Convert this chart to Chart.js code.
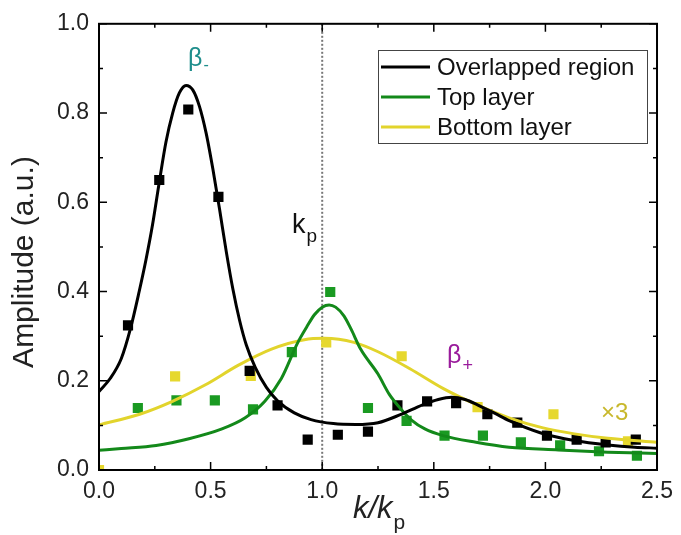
<!DOCTYPE html>
<html>
<head>
<meta charset="utf-8">
<script src="https://cdn.jsdelivr.net/npm/chart.js@4.4.1/dist/chart.umd.min.js"></script>
<style>
  html, body { margin: 0; padding: 0; background: #fff; }
  #wrap { width: 681px; height: 535px; }
</style>
</head>
<body>
<div id="wrap"><canvas id="chart" width="681" height="535"></canvas></div>
<script>
"use strict";

/* --- Data --- */
const overlapFitX = [0, 0.05, 0.10, 0.14, 0.18, 0.21, 0.24, 0.27, 0.30, 0.33, 0.36, 0.39, 0.42, 0.45, 0.48, 0.51, 0.54, 0.57, 0.60, 0.63, 0.66, 0.70, 0.75, 0.80, 0.875, 0.95, 1.05, 1.15, 1.25, 1.35, 1.45, 1.52, 1.58, 1.64, 1.70, 1.77, 1.84, 1.98, 2.13, 2.28, 2.40, 2.5];
const overlapFitY = [0.176, 0.205, 0.250, 0.315, 0.40, 0.47, 0.55, 0.645, 0.735, 0.80, 0.845, 0.862, 0.852, 0.815, 0.755, 0.675, 0.585, 0.49, 0.405, 0.335, 0.28, 0.23, 0.185, 0.155, 0.128, 0.113, 0.104, 0.102, 0.106, 0.124, 0.146, 0.158, 0.163, 0.158, 0.145, 0.128, 0.110, 0.083, 0.066, 0.056, 0.051, 0.049];

const topFitX = [0, 0.1, 0.256, 0.403, 0.551, 0.655, 0.743, 0.817, 0.891, 0.93, 0.965, 1.00, 1.031, 1.06, 1.098, 1.13, 1.172, 1.25, 1.30, 1.35, 1.40, 1.46, 1.541, 1.689, 1.837, 2.058, 2.28, 2.5];
const topFitY = [0.044, 0.048, 0.055, 0.07, 0.092, 0.117, 0.154, 0.205, 0.286, 0.32, 0.348, 0.365, 0.37, 0.365, 0.345, 0.315, 0.271, 0.215, 0.17, 0.138, 0.112, 0.092, 0.077, 0.062, 0.051, 0.045, 0.040, 0.037];

const bottomFitX = [0, 0.182, 0.329, 0.477, 0.625, 0.773, 0.92, 1.009, 1.142, 1.25, 1.393, 1.541, 1.689, 1.837, 1.985, 2.13, 2.28, 2.5];
const bottomFitY = [0.101, 0.125, 0.154, 0.191, 0.235, 0.271, 0.292, 0.295, 0.286, 0.265, 0.227, 0.183, 0.147, 0.117, 0.095, 0.081, 0.071, 0.062];

const overlapX = [0.13, 0.27, 0.40, 0.535, 0.675, 0.80, 0.935, 1.07, 1.205, 1.337, 1.47, 1.60, 1.74, 1.874, 2.007, 2.14, 2.27, 2.405];
const overlapY = [0.324, 0.65, 0.808, 0.612, 0.222, 0.145, 0.068, 0.079, 0.086, 0.145, 0.154, 0.150, 0.125, 0.106, 0.077, 0.068, 0.062, 0.068];

const topX = [0.174, 0.347, 0.519, 0.69, 0.864, 1.036, 1.205, 1.378, 1.548, 1.72, 1.89, 2.066, 2.24, 2.41];
const topY = [0.139, 0.156, 0.156, 0.136, 0.264, 0.399, 0.139, 0.110, 0.077, 0.077, 0.062, 0.055, 0.042, 0.032];

const bottomX = [0.0, 0.341, 0.68, 1.018, 1.356, 1.696, 2.036, 2.37];
const bottomY = [0.0, 0.21, 0.211, 0.286, 0.255, 0.141, 0.125, 0.064];

const seriesNames = ["Overlapped region", "Top layer", "Bottom layer"];
const seriesColors = ["#000000", "#13891a", "#e2d42c"];
const markerColors = ["#000000", "#1a9a22", "#e6d82e"];

const xTicks = [0, 0.5, 1.0, 1.5, 2.0, 2.5];
const xMinorTicks = [0.25, 0.75, 1.25, 1.75, 2.25];
const yTicks = [0, 0.2, 0.4, 0.6, 0.8, 1.0];
const yMinorTicks = [0.1, 0.3, 0.5, 0.7, 0.9];
const KP = 1.0;

const FONT = "'Liberation Sans', Arial, sans-serif";

function pts(xs, ys) {
    return xs.map((x, i) => ({ x: x, y: ys[i] }));
}

function fitLine(i, xs, ys) {
    return {
        label: seriesNames[i],
        data: pts(xs, ys),
        showLine: true,
        borderColor: seriesColors[i],
        borderWidth: 3,
        pointRadius: 0,
        cubicInterpolationMode: "monotone",
        fill: false
    };
}

function markers(i, xs, ys) {
    return {
        label: seriesNames[i] + " data",
        data: pts(xs, ys),
        showLine: false,
        pointStyle: "rect",
        pointRadius: 7.2,
        pointBorderWidth: 0,
        backgroundColor: markerColors[i],
        borderColor: markerColors[i],
        clip: 0
    };
}

// text with a subscript
function drawSub(ctx, main, sub, x, y, size, subSize, color, italic, subDrop) {
    ctx.save();
    ctx.fillStyle = color;
    ctx.textBaseline = "alphabetic";
    ctx.textAlign = "left";
    ctx.font = (italic ? "italic " : "") + size + "px " + FONT;
    ctx.fillText(main, x, y);
    const w = ctx.measureText(main).width;
    ctx.font = subSize + "px " + FONT;
    ctx.fillText(sub, x + w + 1, y + subDrop);
    ctx.restore();
}

/* --- Frame, ticks, labels, legend --- */
const decorPlugin = {
    id: "decor",
    beforeDatasetsDraw(chart) {
        const { ctx, chartArea: a, scales } = chart;
        const px = scales.x.getPixelForValue(KP);
        ctx.save();
        ctx.strokeStyle = "#777";
        ctx.lineWidth = 2;
        ctx.setLineDash([2, 2]);
        ctx.beginPath();
        ctx.moveTo(px, a.top);
        ctx.lineTo(px, a.bottom);
        ctx.stroke();
        ctx.restore();
    },
    afterDraw(chart) {
        const { ctx, chartArea: a, scales } = chart;
        ctx.save();
        ctx.strokeStyle = "#000";
        ctx.lineWidth = 2;
        ctx.strokeRect(a.left, a.top, a.right - a.left, a.bottom - a.top);

        ctx.lineWidth = 1.5;
        ctx.beginPath();
        const tickX = (vals, len) => vals.forEach(v => {
            const p = scales.x.getPixelForValue(v);
            ctx.moveTo(p, a.bottom); ctx.lineTo(p, a.bottom - len);
            ctx.moveTo(p, a.top); ctx.lineTo(p, a.top + len);
        });
        const tickY = (vals, len) => vals.forEach(v => {
            const p = scales.y.getPixelForValue(v);
            ctx.moveTo(a.left, p); ctx.lineTo(a.left + len, p);
            ctx.moveTo(a.right, p); ctx.lineTo(a.right - len, p);
        });
        tickX(xTicks, 8); tickX(xMinorTicks, 4);
        tickY(yTicks, 8); tickY(yMinorTicks, 4);
        ctx.stroke();

        // axis titles
        ctx.fillStyle = "#222";
        ctx.save();
        ctx.translate(25, 262);
        ctx.rotate(-Math.PI / 2);
        ctx.textAlign = "center";
        ctx.textBaseline = "middle";
        ctx.font = "30px " + FONT;
        ctx.fillText("Amplitude (a.u.)", 0, 0);
        ctx.restore();
        drawSub(ctx, "k/k", "p", 353, 518, 31, 21, "#222", true, 11);

        // annotations
        drawSub(ctx, "β", "-", 188, 66, 25, 16, "#1f8e8c", false, 4);
        drawSub(ctx, "k", "p", 292, 233, 27, 19, "#111", false, 9);
        drawSub(ctx, "β", "+", 447, 363, 25, 18, "#9a1c9c", false, 8);
        ctx.fillStyle = "#c8b82c";
        ctx.font = "24px " + FONT;
        ctx.textBaseline = "alphabetic";
        ctx.fillText("×3", 601, 420);

        // legend
        const box = { l: 378, t: 50, r: 647, b: 143 };
        ctx.fillStyle = "#fff";
        ctx.fillRect(box.l, box.t, box.r - box.l, box.b - box.t);
        ctx.strokeStyle = "#444";
        ctx.lineWidth = 1;
        ctx.strokeRect(box.l + 0.5, box.t + 0.5, box.r - box.l, box.b - box.t);
        seriesNames.forEach((name, i) => {
            const yRow = 67 + i * 30;
            ctx.strokeStyle = seriesColors[i];
            ctx.lineWidth = 3;
            ctx.beginPath();
            ctx.moveTo(381, yRow); ctx.lineTo(430, yRow);
            ctx.stroke();
            ctx.fillStyle = "#111";
            ctx.font = "24px " + FONT;
            ctx.textBaseline = "middle";
            ctx.textAlign = "left";
            ctx.fillText(name, 437, yRow + 1);
        });
        ctx.restore();
    }
};

const ctx = document.getElementById("chart").getContext("2d");

new Chart(ctx, {
    type: "scatter",
    data: {
        datasets: [
            fitLine(0, overlapFitX, overlapFitY),
            fitLine(1, topFitX, topFitY),
            fitLine(2, bottomFitX, bottomFitY),
            markers(0, overlapX, overlapY),
            markers(1, topX, topY),
            markers(2, bottomX, bottomY)
        ]
    },
    options: {
        responsive: false,
        animation: false,
        layout: { padding: { left: 0, right: 18, top: 16, bottom: 0 } },
        scales: {
            x: {
                type: "linear",
                min: 0,
                max: 2.5,
                afterFit: s => { s.height = 65; },
                afterBuildTicks: s => { s.ticks = xTicks.map(v => ({ value: v })); },
                grid: { display: false, drawTicks: false },
                border: { display: false },
                ticks: {
                    autoSkip: false,
                    maxRotation: 0,
                    padding: 8,
                    color: "#222",
                    font: { family: FONT, size: 23 },
                    callback: v => v.toFixed(1)
                }
            },
            y: {
                type: "linear",
                min: 0,
                max: 1,
                afterFit: s => { s.width = 99; },
                afterBuildTicks: s => { s.ticks = yTicks.map(v => ({ value: v })); },
                grid: { display: false, drawTicks: false },
                border: { display: false },
                ticks: {
                    autoSkip: false,
                    padding: 10,
                    color: "#222",
                    font: { family: FONT, size: 23 },
                    callback: v => v.toFixed(1)
                }
            }
        },
        plugins: {
            legend: { display: false },
            tooltip: { enabled: false }
        }
    },
    plugins: [decorPlugin]
});
</script>
</body>
</html>
